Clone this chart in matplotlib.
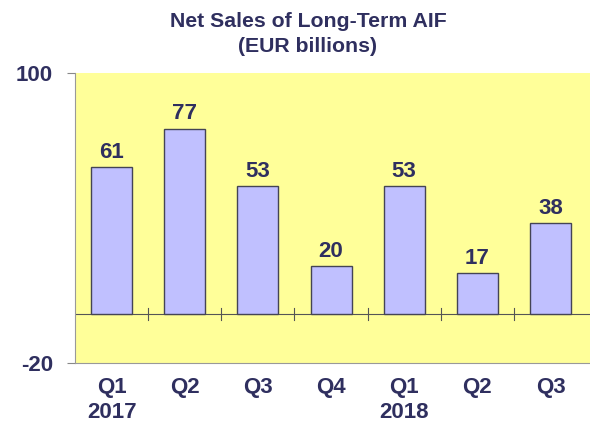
import matplotlib.pyplot as plt
import numpy as np

# net sales of long-term AIF, EUR billions
quarters = ['Q1\n2017', 'Q2', 'Q3', 'Q4', 'Q1\n2018', 'Q2', 'Q3']
net_sales = [61, 77, 53, 20, 53, 17, 38]

navy = '#2F2F5F'
plt.rcParams['font.family'] = ['Liberation Sans', 'DejaVu Sans']
plt.rcParams['font.weight'] = 'bold'

fig = plt.figure(figsize=(5.9, 4.23), dpi=100)
ax = fig.add_axes([75/590, 1-362.7/423, 1-75/590, 289.7/423])
ax.set_facecolor('#FFFF99')

x = np.arange(len(quarters))
bars = ax.bar(x, net_sales, width=0.56, color='#C0C0FF', edgecolor='#444455', linewidth=1, zorder=3)
for xi, v in zip(x, net_sales):
    ax.text(xi, v + 3.8, str(v), ha='center', va='baseline', fontsize=16, fontweight='bold', color=navy)

# zero line with category-boundary ticks
ax.axhline(0, color='#555555', linewidth=0.8, zorder=2)
for b in np.arange(0.5, len(quarters) - 0.5, 1):
    ax.plot([b, b], [-2.5, 2.5], color='#555555', linewidth=0.8, zorder=2)

ax.set_xlim(-0.5, len(quarters) - 0.5 + 0.04)
ax.set_ylim(-20, 100)
ax.set_yticks([-20, 100])
ax.set_yticklabels(['-20', '100'], fontsize=16, fontweight='bold', color=navy)
ax.set_xticks(x)
ax.set_xticklabels(quarters, fontsize=16, fontweight='bold', color=navy, linespacing=1.25)
ax.tick_params(axis='x', length=0, pad=10)
ax.tick_params(axis='y', length=6, color='#888888', pad=10)
for s in ['top', 'right']:
    ax.spines[s].set_visible(False)
ax.spines['left'].set_color('#999999')
ax.spines['bottom'].set_color('#999999')

fig.text(308/590, 1 - 34/423, 'Net Sales of Long-Term AIF\n(EUR billions)', ha='center', va='center',
         fontsize=15.3, fontweight='bold', color=navy, linespacing=1.45)

fig.savefig('out.png', dpi=100)
